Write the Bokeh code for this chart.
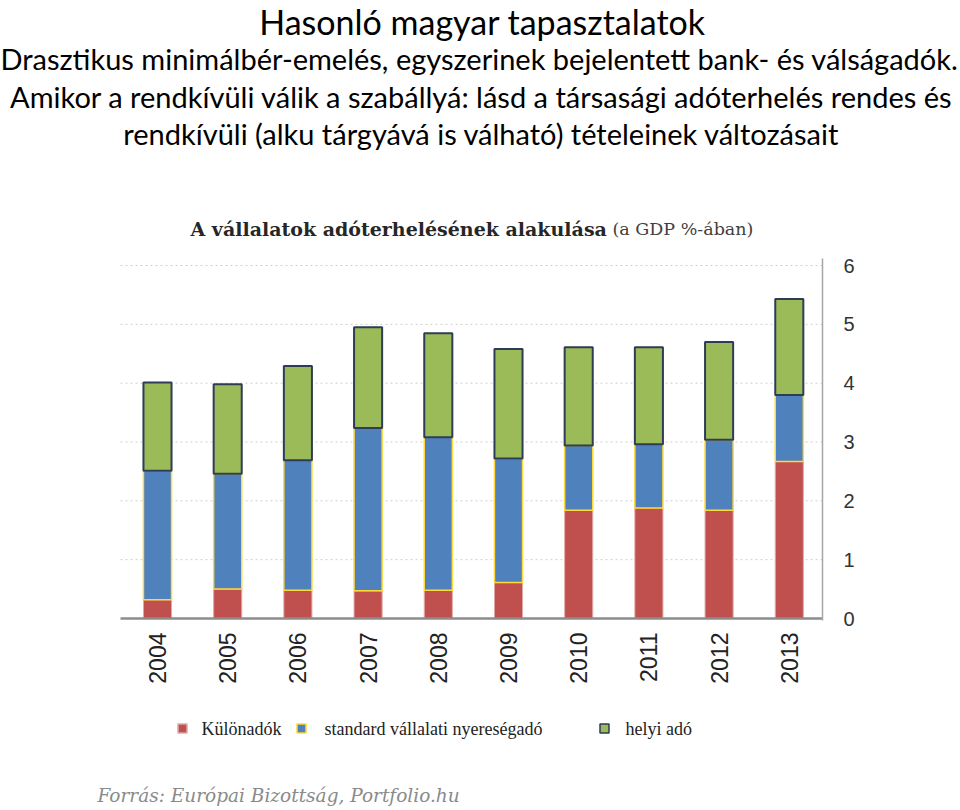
import math
from bokeh.plotting import figure
from bokeh.models import ColumnDataSource, Range1d, FixedTicker
from bokeh.core.properties import value
from bokeh.embed import file_html
from bokeh.resources import INLINE

# ---- data ----
years = ["2004", "2005", "2006", "2007", "2008", "2009", "2010", "2011", "2012", "2013"]
kulonadok = [0.32, 0.50, 0.48, 0.47, 0.48, 0.61, 1.84, 1.88, 1.84, 2.67]
standard = [2.19, 1.96, 2.21, 2.77, 2.60, 2.11, 1.10, 1.08, 1.20, 1.13]
helyi = [1.50, 1.52, 1.60, 1.71, 1.77, 1.86, 1.67, 1.65, 1.66, 1.63]
y_ticks = [0, 1, 2, 3, 4, 5, 6]
series_names = ["Különadók", "standard vállalati nyereségadó", "helyi adó"]
fill_colors = ["#c0504d", "#4f81bd", "#9bbb59"]
edge_colors = ["#e0a8a6", "#ffd83a", "#2e3c56"]

title_main = "Hasonló magyar tapasztalatok"
title_lines = [
    "Drasztikus minimálbér-emelés, egyszerinek bejelentett bank- és válságadók.",
    "Amikor a rendkívüli válik a szabállyá: lásd a társasági adóterhelés rendes és",
    "rendkívüli (alku tárgyává is válható) tételeinek változásait",
]
chart_title_bold = "A vállalatok adóterhelésének alakulása"
chart_title_unit = "(a GDP %-ában)"
source_text = "Forrás: Európai Bizottság, Portfolio.hu"

# ---- geometry (page px -> data) ----
W, H = 958, 808
FL, FR, FT, FB = 120, 822, 258, 618
PXX = (FR - FL) / 10.0
PXY = 58.83
X0 = -0.527

def dx(px):
    return X0 + (px - FL) / PXX

def dy(py):
    return (FB - py) / PXY

p = figure(width=W, height=H, output_backend="svg", toolbar_location=None,
           x_range=Range1d(dx(0), dx(W)), y_range=Range1d(dy(H), dy(0)),
           y_axis_location="right", title=None, min_border=0)
p.outline_line_color = None
p.grid.visible = False

# dotted gridlines
p.segment(x0=dx(FL), x1=dx(FR), y0=y_ticks[1:], y1=y_ticks[1:],
          line_color="#cfcfcf", line_dash="2 3", line_width=1)

# stacked bars
src = ColumnDataSource(dict(x=list(range(len(years))), k=kulonadok, s=standard, h=helyi))
p.vbar_stack(["k", "s", "h"], x="x", width=0.4, source=src,
             fill_color=fill_colors, line_color=edge_colors, line_width=[1, 1.5, 2])

# right value axis
ya = p.yaxis[0]
ya.fixed_location = dx(FR)
ya.bounds = (dy(FB + 2), dy(FT))
ya.ticker = FixedTicker(ticks=y_ticks)
ya.axis_line_color = "#a6a6a6"
ya.axis_line_width = 1.5
ya.major_tick_line_color = None
ya.minor_tick_line_color = None
ya.major_label_standoff = 15
ya.major_label_text_font = "Liberation Sans"
ya.major_label_text_font_size = "20px"
ya.major_label_text_color = "#333333"

# bottom category axis
xa = p.xaxis[0]
xa.fixed_location = 0
xa.bounds = (dx(FL), dx(FR))
xa.ticker = FixedTicker(ticks=list(range(len(years))))
xa.major_label_overrides = {i: y for i, y in enumerate(years)}
xa.major_label_orientation = math.pi / 2
xa.axis_line_color = "#8c8c8c"
xa.axis_line_width = 2.5
xa.major_tick_line_color = None
xa.minor_tick_line_color = None
xa.major_label_standoff = 8
xa.major_label_text_font = "Liberation Sans"
xa.major_label_text_font_size = "23px"
xa.major_label_text_color = "#222222"

def txt(s, x, y, size, font, color="#000000", style="normal", align="center"):
    p.text(x=[dx(x)], y=[dy(y)], text=[s], text_font=value(font), text_font_size=size,
           text_color=color, text_font_style=style, text_align=align,
           text_baseline="middle")

# headings
txt(title_main, 482, 21, "34px", "Lato")
txt(title_lines[0], 479, 58, "29px", "Lato")
txt(title_lines[1], 481, 96, "29px", "Lato")
txt(title_lines[2], 481, 133, "29px", "Lato")
txt(chart_title_bold, 190, 228, "19px", "DejaVu Serif", "#262626", "bold", "left")
txt(chart_title_unit, 612, 228, "17.5px", "DejaVu Serif", "#404040", "normal", "left")

# legend
leg_sq_x = [182, 301, 604]
leg_tx_x = [201, 324, 625]
leg_y = 728
p.scatter(x=[dx(v) for v in leg_sq_x], y=[dy(leg_y)] * 3, marker="square", size=9,
          fill_color=fill_colors, line_color=edge_colors, line_width=1.5)
p.text(x=[dx(v) for v in leg_tx_x], y=[dy(leg_y)] * 3, text=series_names,
       text_font=value("Liberation Serif"), text_font_size="18px",
       text_color="#222222", text_baseline="middle", text_align="left")

# source
txt(source_text, 97, 795, "18.5px", "DejaVu Serif", "#8a8a8a", "italic", "left")

open("out.html", "w").write(file_html(p, INLINE))
